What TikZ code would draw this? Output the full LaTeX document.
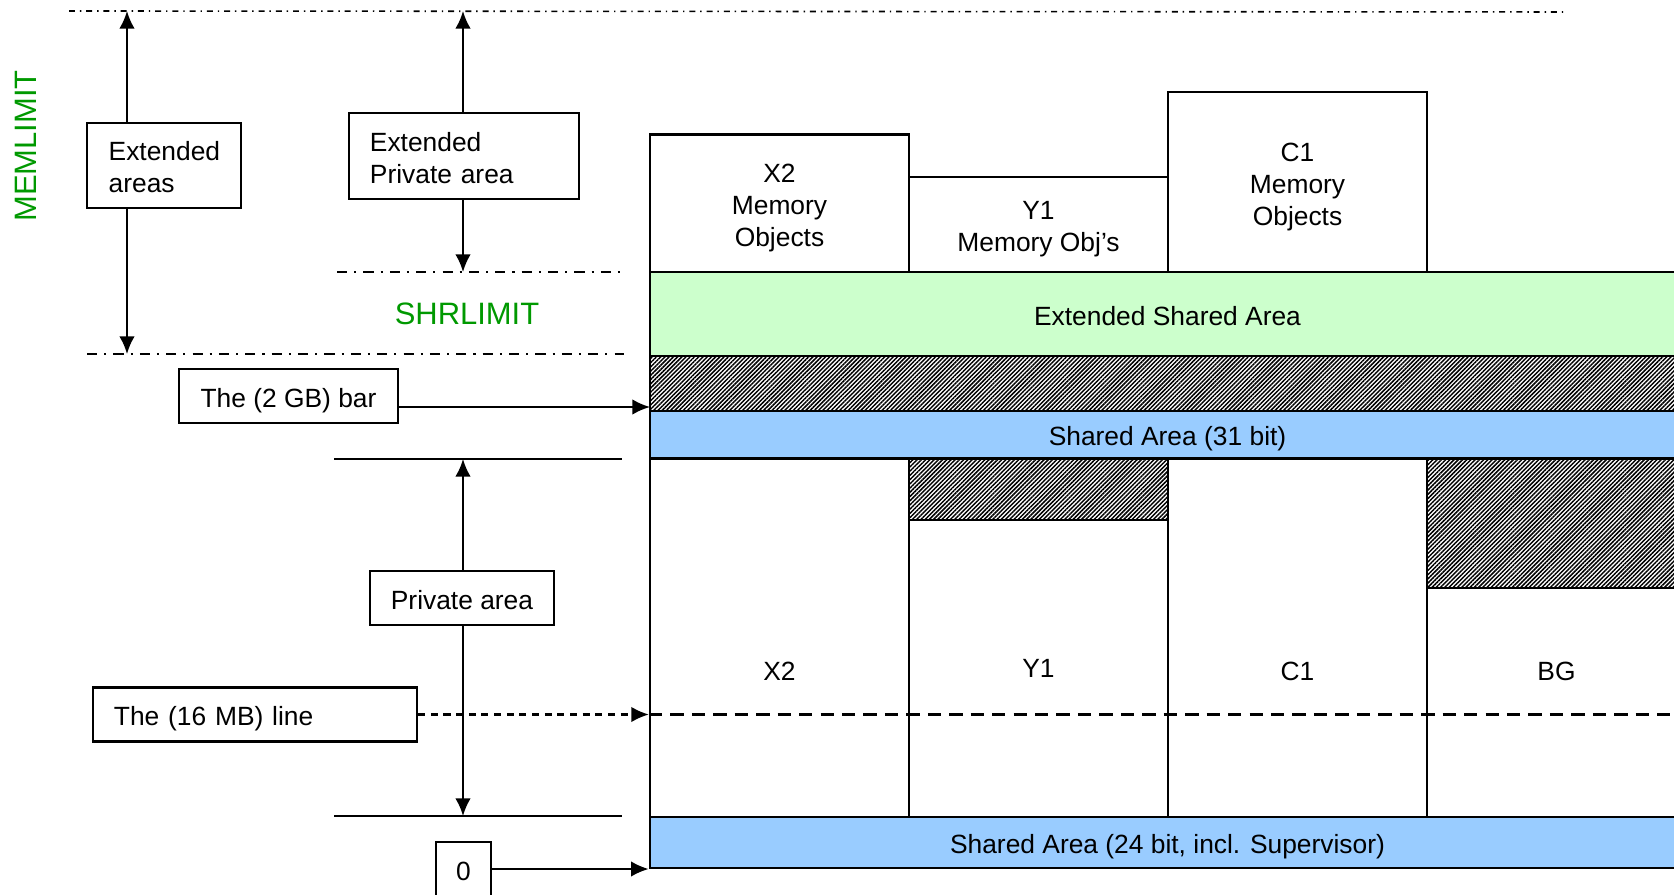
\documentclass[tikz,border=0pt]{standalone}
\usepackage{fontspec}
\setmainfont{Liberation Sans}
\usetikzlibrary{positioning,arrows.meta,patterns.meta}
\definecolor{extgreen}{HTML}{CCFFCC}
\definecolor{shrblue}{HTML}{99CCFF}
\definecolor{limgreen}{RGB}{0,153,0}
\newcommand{\fstrut}{\rule[-0.212em]{0pt}{1.27em}}
\newcommand{\fdepth}{\rule[-0.212em]{0pt}{0.212em}}
\tikzset{
  every node/.append style={execute at begin node=\fstrut, execute at end node=\fdepth},
  lbox/.style={draw, line width=0.6pt, inner sep=0pt, minimum height=0.54cm},
  area/.style={draw, line width=0.6pt, inner sep=0pt, minimum width=2.59cm},
  band/.style={draw, line width=0.6pt, inner sep=0pt, minimum width=10.35cm},
  hatched/.style={pattern={Lines[angle=45,distance=0.85pt,line width=0.42pt]}},
  limit/.style={line width=0.5pt, dash pattern=on 2.9pt off 2pt on 0.6pt off 2pt},
  limtext/.style={text=limgreen, font=\fontsize{8.8}{10}\selectfont},
  conn/.style={-{Latex[length=5pt,width=4.4pt]}, line width=0.6pt}
}

\begin{document}
\begin{tikzpicture}[x=0.01cm, y=-0.01cm, font=\fontsize{7.5}{9.1}\selectfont]
    \useasboundingbox (0,0) rectangle (1674,895);
    \clip (0,0) rectangle (1674,895);
    % limit lines on the left
    \coordinate (memtop) at (127,11);
    \coordinate (membot) at (127,354);
    \coordinate (shrtop) at (463,272);
    \coordinate (privtop) at (463,459);
    \coordinate (privbot) at (463,816);
    \coordinate (gbarr) at (650,407);
    \draw [line width=0.45pt, dash pattern=on 1.7pt off 1.4pt on 0.4pt off 1.4pt] (69,11) -- (1567,12);
    \draw [limit] (337,272) -- (624,272);
    \draw [limit] (87,354) -- (624,354);
    \draw [line width=0.6pt] (334,459) -- (622,459);
    \draw [line width=0.6pt] (334,816) -- (622,816);
    \node [limtext, rotate=90] (memlim) at (23,146) {MEMLIMIT};
    \node [limtext] (shrlim) at (467,311) {SHRLIMIT};

    % the memory map
    \node [area, minimum height=1.375cm, align=center] (x2obj) at (779.5,203.25) {\fstrut X2\\Memory\\Objects\fdepth};
    \node [area, minimum height=0.95cm, align=center] (y1obj) at (1038.5,224.5) {\fstrut Y1\\Memory Obj’s\fdepth};
    \node [area, minimum height=1.80cm, align=center] (c1obj) at (1297.5,182) {\fstrut C1\\Memory\\Objects\fdepth};
    \node [band, fill=extgreen, minimum height=0.84cm] (extshr) at (1167.5,314) {Extended Shared Area};
    \node [band, hatched, minimum height=0.55cm] (bar) at (1167.5,383.5) {};
    \node [band, fill=shrblue, minimum height=0.475cm] (shr31) at (1167.5,434.75) {Shared Area (31 bit)};
    \node [area, minimum height=3.585cm] (x2col) at (779.5,637.75) {};
    \node [area, minimum height=3.585cm] (y1col) at (1038.5,637.75) {};
    \node [area, minimum height=3.585cm] (c1col) at (1297.5,637.75) {};
    \node [area, minimum height=3.585cm] (bgcol) at (1556.5,637.75) {};
    \node [area, hatched, minimum height=0.615cm] (y1hatch) at (1038.5,489.25) {};
    \node [area, hatched, minimum height=1.295cm] (bghatch) at (1556.5,523.25) {};
    \node [band, fill=shrblue, minimum height=0.51cm] (shr24) at (1167.5,842.5) {Shared Area (24 bit, incl. Supervisor)};
    \node (x2lbl) at (779.5,669) {X2};
    \node (y1lbl) at (1038.5,666) {Y1};
    \node (c1lbl) at (1297.5,669) {C1};
    \node (bglbl) at (1556.5,669) {BG};

    % boxes on the left
    \node [lbox, minimum width=1.535cm, minimum height=0.85cm, text width=1.105cm, inner xsep=0.215cm, align=left] (extareas) at (164,165.5) {\fstrut Extended\\areas\fdepth};
    \node [lbox, minimum width=2.30cm, minimum height=0.86cm, text width=1.88cm, inner xsep=0.21cm, align=left] (extpriv) at (464,156) {\fstrut Extended\\Private area\fdepth};
    \node [lbox, minimum width=2.19cm] (gbbar) at (288.5,396) {The (2 GB) bar};
    \node [lbox, minimum width=1.84cm] (privarea) at (462,598) {Private area};
    \node [lbox, minimum width=3.24cm, text width=2.82cm, inner xsep=0.21cm, align=left] (mbline) at (255,714.5) {The (16 MB) line};
    \node [lbox, minimum width=0.55cm] (zero) at (463.5,869) {0};

    \draw [conn] (memtop |- extareas.north) -- (memtop);
    \draw [conn] (membot |- extareas.south) -- (membot);
    \draw [conn] (extpriv.north -| shrtop) -- (memtop -| shrtop);
    \draw [conn] (extpriv.south -| shrtop) -- (shrtop);
    \draw [conn] (privarea.north -| privtop) -- (privtop);
    \draw [conn] (privarea.south -| privbot) -- (privbot);
    \draw [conn] (gbbar.east |- gbarr) -- (gbarr);
    \draw [conn, dash pattern=on 2pt off 1.6pt] (mbline.east) -- (mbline.east -| x2col.west);
    \draw [line width=0.6pt, dash pattern=on 3.8pt off 2.3pt] (x2col.west |- mbline.east) -- (bgcol.east |- mbline.east);
    \draw [conn] (zero.east) -- (zero.east -| shr24.west);
\end{tikzpicture}
\end{document}
